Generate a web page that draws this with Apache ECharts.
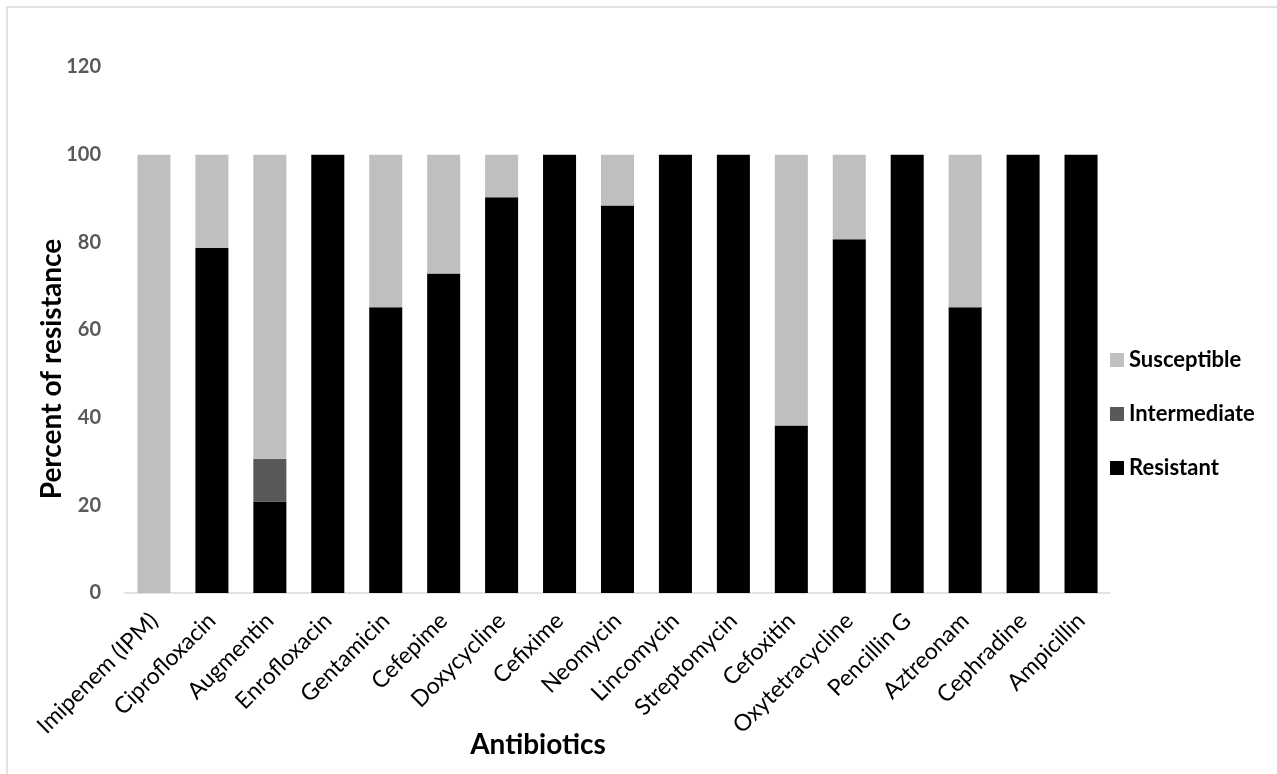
<!DOCTYPE html>
<html>
<head>
<meta charset="utf-8">
<script src="https://cdn.jsdelivr.net/npm/echarts@6/dist/echarts.min.js"></script>
<style>
html,body{margin:0;padding:0;background:#fff;}
#chart{width:1277px;height:774px;}
</style>
</head>
<body>
<div id="chart"></div>
<script>
const categories = ['Imipenem (IPM)','Ciprofloxacin','Augmentin','Enrofloxacin','Gentamicin','Cefepime','Doxycycline','Cefixime','Neomycin','Lincomycin','Streptomycin','Cefoxitin','Oxytetracycline','Pencillin G','Aztreonam','Cephradine','Ampicillin'];
const resistant    = [0, 78.7, 20.9, 100, 65.2, 72.9, 90.3, 100, 88.4, 100, 100, 38.2, 80.7, 100, 65.2, 100, 100];
const intermediate = [0, 0, 9.7, 0, 0, 0, 0, 0, 0, 0, 0, 0, 0, 0, 0, 0, 0];
const susceptible  = [100, 21.3, 69.4, 0, 34.8, 27.1, 9.7, 0, 11.6, 0, 0, 61.8, 19.3, 0, 34.8, 0, 0];
const seriesNames = ['Resistant','Intermediate','Susceptible'];
const yTicks = {min: 0, max: 120, interval: 20};
const xTitle = 'Antibiotics';
const yTitle = 'Percent of resistance';

const FONT = 'Lato, "Open Sans", sans-serif';
const chart = echarts.init(document.getElementById('chart'), null, {renderer: 'canvas'});

function barSeries(name, data, color) {
  return {
    name: name, type: 'bar', stack: 'total', data: data,
    barCategoryGap: '43%',
    itemStyle: {color: color},
    emphasis: {disabled: true}
  };
}

chart.setOption({
  animation: false,
  backgroundColor: '#ffffff',
  textStyle: {fontFamily: FONT},
  grid: {left: 125, right: 167, top: 67, bottom: 181, containLabel: false},
  legend: {
    orient: 'vertical',
    left: 1110, top: 349, padding: 0,
    data: ['Susceptible','Intermediate','Resistant'],
    icon: 'rect', itemWidth: 14, itemHeight: 14, itemGap: 32,
    textStyle: {fontFamily: FONT, fontSize: 22, fontWeight: 'bold', color: '#000', lineHeight: 22},
    selectedMode: false
  },
  xAxis: {
    type: 'category', data: categories,
    axisLine: {show: true, lineStyle: {color: '#d9d9d9', width: 1.5}},
    axisTick: {show: false},
    axisLabel: {rotate: 45, interval: 0, fontFamily: FONT, fontSize: 23, color: '#000', margin: 24}
  },
  yAxis: {
    type: 'value', min: yTicks.min, max: yTicks.max, interval: yTicks.interval,
    axisLine: {show: false}, axisTick: {show: false}, splitLine: {show: false},
    axisLabel: {fontFamily: FONT, fontSize: 20, fontWeight: 'bold', color: '#595959', margin: 24}
  },
  graphic: [
    {type: 'rect', shape: {x: 7, y: 7, width: 1400, height: 900}, style: {fill: 'none', stroke: '#d9d9d9', lineWidth: 1.5}, silent: true},
    {type: 'text', x: 538, y: 745, style: {text: xTitle, font: 'bold 28px ' + FONT, fill: '#000', textAlign: 'center', textVerticalAlign: 'middle'}},
    {type: 'text', x: 52, y: 369, rotation: Math.PI / 2, style: {text: yTitle, font: 'bold 28px ' + FONT, fill: '#000', textAlign: 'center', textVerticalAlign: 'middle'}}
  ],
  series: [
    barSeries(seriesNames[0], resistant, '#000000'),
    barSeries(seriesNames[1], intermediate, '#595959'),
    barSeries(seriesNames[2], susceptible, '#bfbfbf')
  ]
});
</script>
</body>
</html>
